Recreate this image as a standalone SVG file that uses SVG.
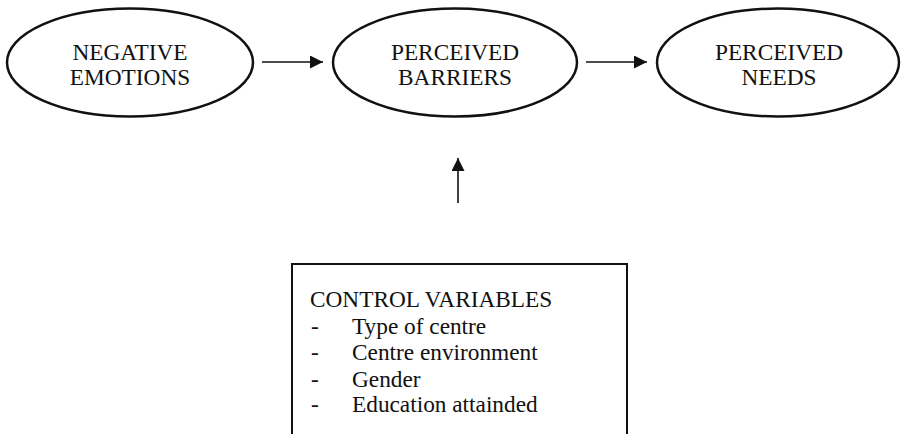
<svg xmlns="http://www.w3.org/2000/svg" width="903" height="434" viewBox="0 0 903 434">
<style>
.n{fill:#fff;stroke:#111;stroke-width:2.5}
.t{font-family:"Liberation Serif","Times New Roman",serif;font-size:23.3px;fill:#111}
.c{stroke:#111;stroke-width:1.6;fill:none}
</style>
<defs>
<marker id="ah" viewBox="0 0 10 10" refX="10" refY="5" markerWidth="13" markerHeight="13" markerUnits="userSpaceOnUse" orient="auto">
<path d="M0,0 L10,5 L0,10 Z" fill="#111"/>
</marker>
</defs>
<rect width="903" height="434" fill="#fff"/>
<g id="negative-emotions">
<ellipse class="n" cx="130" cy="62.5" rx="123" ry="54"/>
<text class="t" text-anchor="middle" x="130" y="60">NEGATIVE</text>
<text class="t" text-anchor="middle" x="130" y="85">EMOTIONS</text>
</g>
<g id="perceived-barriers">
<ellipse class="n" cx="455" cy="62.5" rx="122" ry="54"/>
<text class="t" text-anchor="middle" x="455" y="60">PERCEIVED</text>
<text class="t" text-anchor="middle" x="455" y="85">BARRIERS</text>
</g>
<g id="perceived-needs">
<ellipse class="n" cx="778" cy="62.5" rx="121" ry="54"/>
<text class="t" text-anchor="middle" x="779" y="60">PERCEIVED</text>
<text class="t" text-anchor="middle" x="779" y="85">NEEDS</text>
</g>
<g id="control-variables">
<rect x="292" y="264" width="335" height="180" fill="#fff" stroke="#111" stroke-width="2"/>
<text class="t" x="310" y="307">CONTROL VARIABLES</text>
<text class="t" x="311" y="333.5">-</text>
<text class="t" x="352" y="333.5">Type of centre</text>
<text class="t" x="311" y="360">-</text>
<text class="t" x="352" y="360">Centre environment</text>
<text class="t" x="311" y="386.5">-</text>
<text class="t" x="352" y="386.5">Gender</text>
<text class="t" x="311" y="412">-</text>
<text class="t" x="352" y="412">Education attainded</text>
</g>
<g id="connectors">
<line class="c" x1="262" y1="62" x2="323" y2="62" marker-end="url(#ah)"/>
<line class="c" x1="586" y1="62" x2="647" y2="62" marker-end="url(#ah)"/>
<line class="c" x1="458" y1="203" x2="458" y2="158" marker-end="url(#ah)"/>
</g>
</svg>
